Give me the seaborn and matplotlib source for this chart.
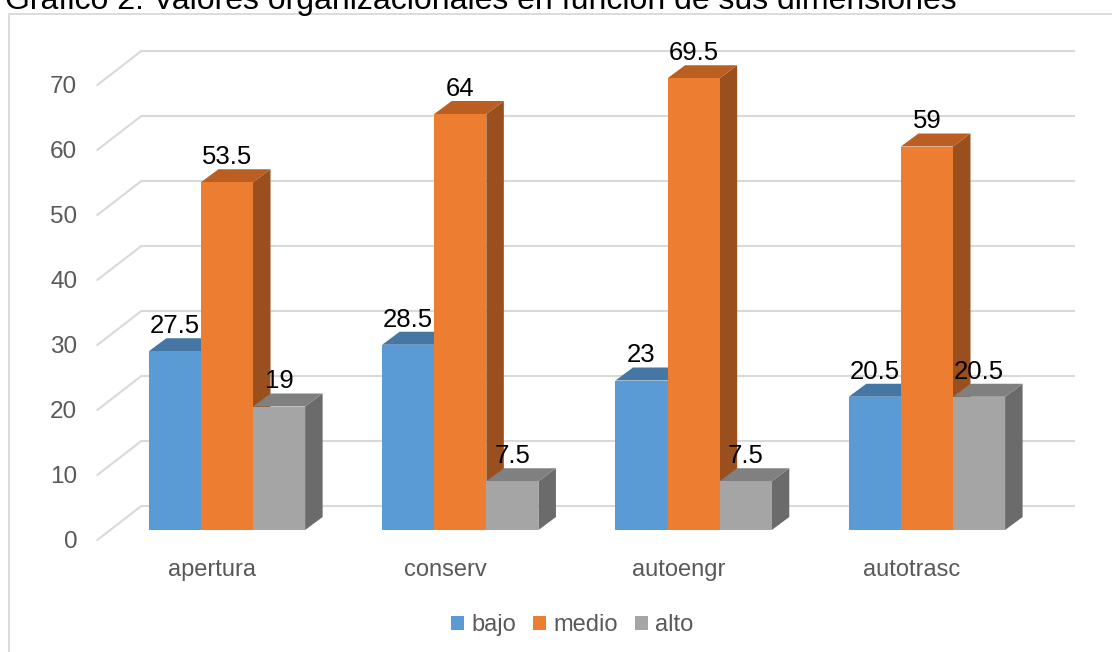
import numpy as np
import pandas as pd
import matplotlib
matplotlib.use("Agg")
import matplotlib.pyplot as plt
from matplotlib.patches import Polygon, Rectangle, Patch
import seaborn as sns

# ---- data ----
categories = ["apertura", "conserv", "autoengr", "autotrasc"]
series_names = ["bajo", "medio", "alto"]
bajo = [27.5, 28.5, 23, 20.5]
medio = [53.5, 64, 69.5, 59]
alto = [19, 7.5, 7.5, 20.5]
yticks = [0, 10, 20, 30, 40, 50, 60, 70]
title = "Gráfico 2. Valores organizacionales en función de sus dimensiones"

front_colors = ["#5B9BD5", "#ED7D31", "#A5A5A5"]
top_colors = ["#4676A4", "#BA5E21", "#808080"]
side_colors = ["#3E6A96", "#9A501E", "#6B6B6B"]

sns.set_style("white")
plt.rcParams["font.family"] = ["Liberation Sans", "DejaVu Sans"]

df = pd.DataFrame({
    "categoria": categories * 3,
    "serie": [s for s in series_names for _ in categories],
    "valor": bajo + medio + alto,
})

W, H = 1112, 652
fig = plt.figure(figsize=(W / 100, H / 100), dpi=100)
ax_left, ax_right = 110.3, 1043.6
ax_top, ax_bottom = 75.0, 530.0
ax = fig.add_axes([ax_left / W, 1 - ax_bottom / H, (ax_right - ax_left) / W, (ax_bottom - ax_top) / H])

sns.barplot(data=df, x="categoria", y="valor", hue="serie", order=categories,
            hue_order=series_names, palette=front_colors, width=0.67,
            saturation=1, ax=ax, legend=False, linewidth=0)

ax.set_xlim(-0.5, 3.5)
ax.set_ylim(0, 70)
ax.axis("off")

# pixel -> data conversion factors
px_x = (3.5 - (-0.5)) / (ax_right - ax_left)
px_y = 70 / (ax_bottom - ax_top)

# depth offsets (pixels)
bar_dx, bar_dy = 17.5 * px_x, 13 * px_y
back_dx, back_dy = 31 * px_x, 24 * px_y
front_dx, front_dy = -13 * px_x, -10 * px_y

grid_c = "#D9D9D9"
for v in yticks:
    ax.plot([-0.5 + back_dx, 3.5 + back_dx], [v + back_dy, v + back_dy],
            color=grid_c, lw=1.5, zorder=1, clip_on=False, solid_capstyle="butt")
    ax.plot([-0.5 + front_dx, -0.5 + back_dx], [v + front_dy, v + back_dy],
            color=grid_c, lw=1.5, zorder=1, clip_on=False)
    ax.annotate(f"{v}", xy=(-0.5 + front_dx, v + front_dy), xytext=(-14.5, -1.5),
                textcoords="offset points", ha="right", va="center",
                fontsize=17.5, color="#595959", annotation_clip=False)

# 3D faces
bars = []
for si, cont in enumerate(ax.containers):
    for p in cont.patches:
        bars.append((p.get_x(), si, p))
bars.sort(key=lambda t: t[0])
for k, (x0, si, p) in enumerate(bars):
    w = p.get_width()
    h = p.get_height()
    x1 = x0 + w
    z = 10 + 2 * k
    top = Polygon([(x0, h), (x1, h), (x1 + bar_dx, h + bar_dy), (x0 + bar_dx, h + bar_dy)],
                  closed=True, facecolor=top_colors[si], edgecolor="none", zorder=z, clip_on=False)
    side = Polygon([(x1, 0), (x1 + bar_dx, bar_dy), (x1 + bar_dx, h + bar_dy), (x1, h)],
                   closed=True, facecolor=side_colors[si], edgecolor="none", zorder=z, clip_on=False)
    ax.add_patch(side)
    ax.add_patch(top)
    p.set_zorder(z + 1)
    p.set_clip_on(False)
    ax.text(x0 + w / 2, h + bar_dy + 0.8, f"{h:g}", ha="center", va="baseline",
            fontsize=18.5, color="black", zorder=100, clip_on=False)

# category labels
for i, c in enumerate(categories):
    ax.text(i - 0.065, -40 * px_y, c, ha="center", va="center", fontsize=17,
            color="#595959", clip_on=False)

# legend
handles = [Patch(facecolor=front_colors[i], edgecolor="none") for i in range(3)]
fig.legend(handles, series_names, loc="center", bbox_to_anchor=(572 / W, 1 - 625 / H),
           ncol=3, frameon=False, fontsize=17, handlelength=0.55, handleheight=0.55,
           handletextpad=0.3, columnspacing=0.72, labelcolor="#595959")

# chart border
fig.add_artist(Rectangle((9 / W, -0.1), 1.2, (H - 14) / H + 0.1, transform=fig.transFigure,
                         fill=False, edgecolor="#D9D9D9", lw=1.3))

# title (partly cut at top)
fig.text(5 / W, 1 - 9 / H, title, ha="left", va="baseline", fontsize=23, color="black")

fig.savefig("out.png", dpi=100)
